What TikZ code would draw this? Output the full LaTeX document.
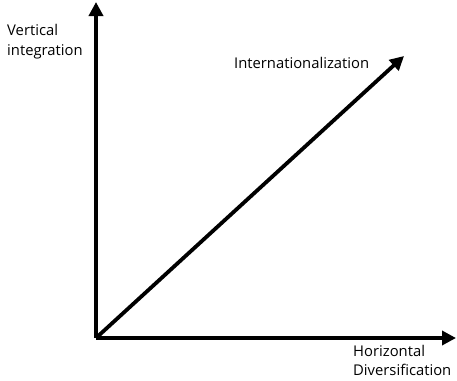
\documentclass[tikz,border=0pt]{standalone}
\usepackage{fontspec}
\setmainfont{Open Sans}
\usetikzlibrary{arrows.meta}
\begin{document}
\begin{tikzpicture}[x=1pt,y=-1pt,
  axis/.style={line width=3.8pt,-{Triangle[length=14pt,width=14pt]}},
  lbl/.style={font=\fontsize{14.8}{20}\selectfont,inner sep=0pt,anchor=base west,align=left}]
\useasboundingbox (0,0) rectangle (457,380);
\coordinate (o) at (96,338);
\coordinate (vt) at (96,2);
\coordinate (ht) at (456,338);
\coordinate (dt) at (404,56);
\draw[axis] (o) -- (vt);
\draw[axis] (o) -- (ht);
\draw[axis] (o) -- (dt);
\node[lbl] (v1) at (7,35) {Vertical};
\node[lbl] (v2) at (7,55) {integration};
\node[lbl] (in) at (234,68) {Internationalization};
\node[lbl] (h1) at (353,356) {Horizontal};
\node[lbl] (h2) at (353,375) {Diversification};
\end{tikzpicture}
\end{document}
